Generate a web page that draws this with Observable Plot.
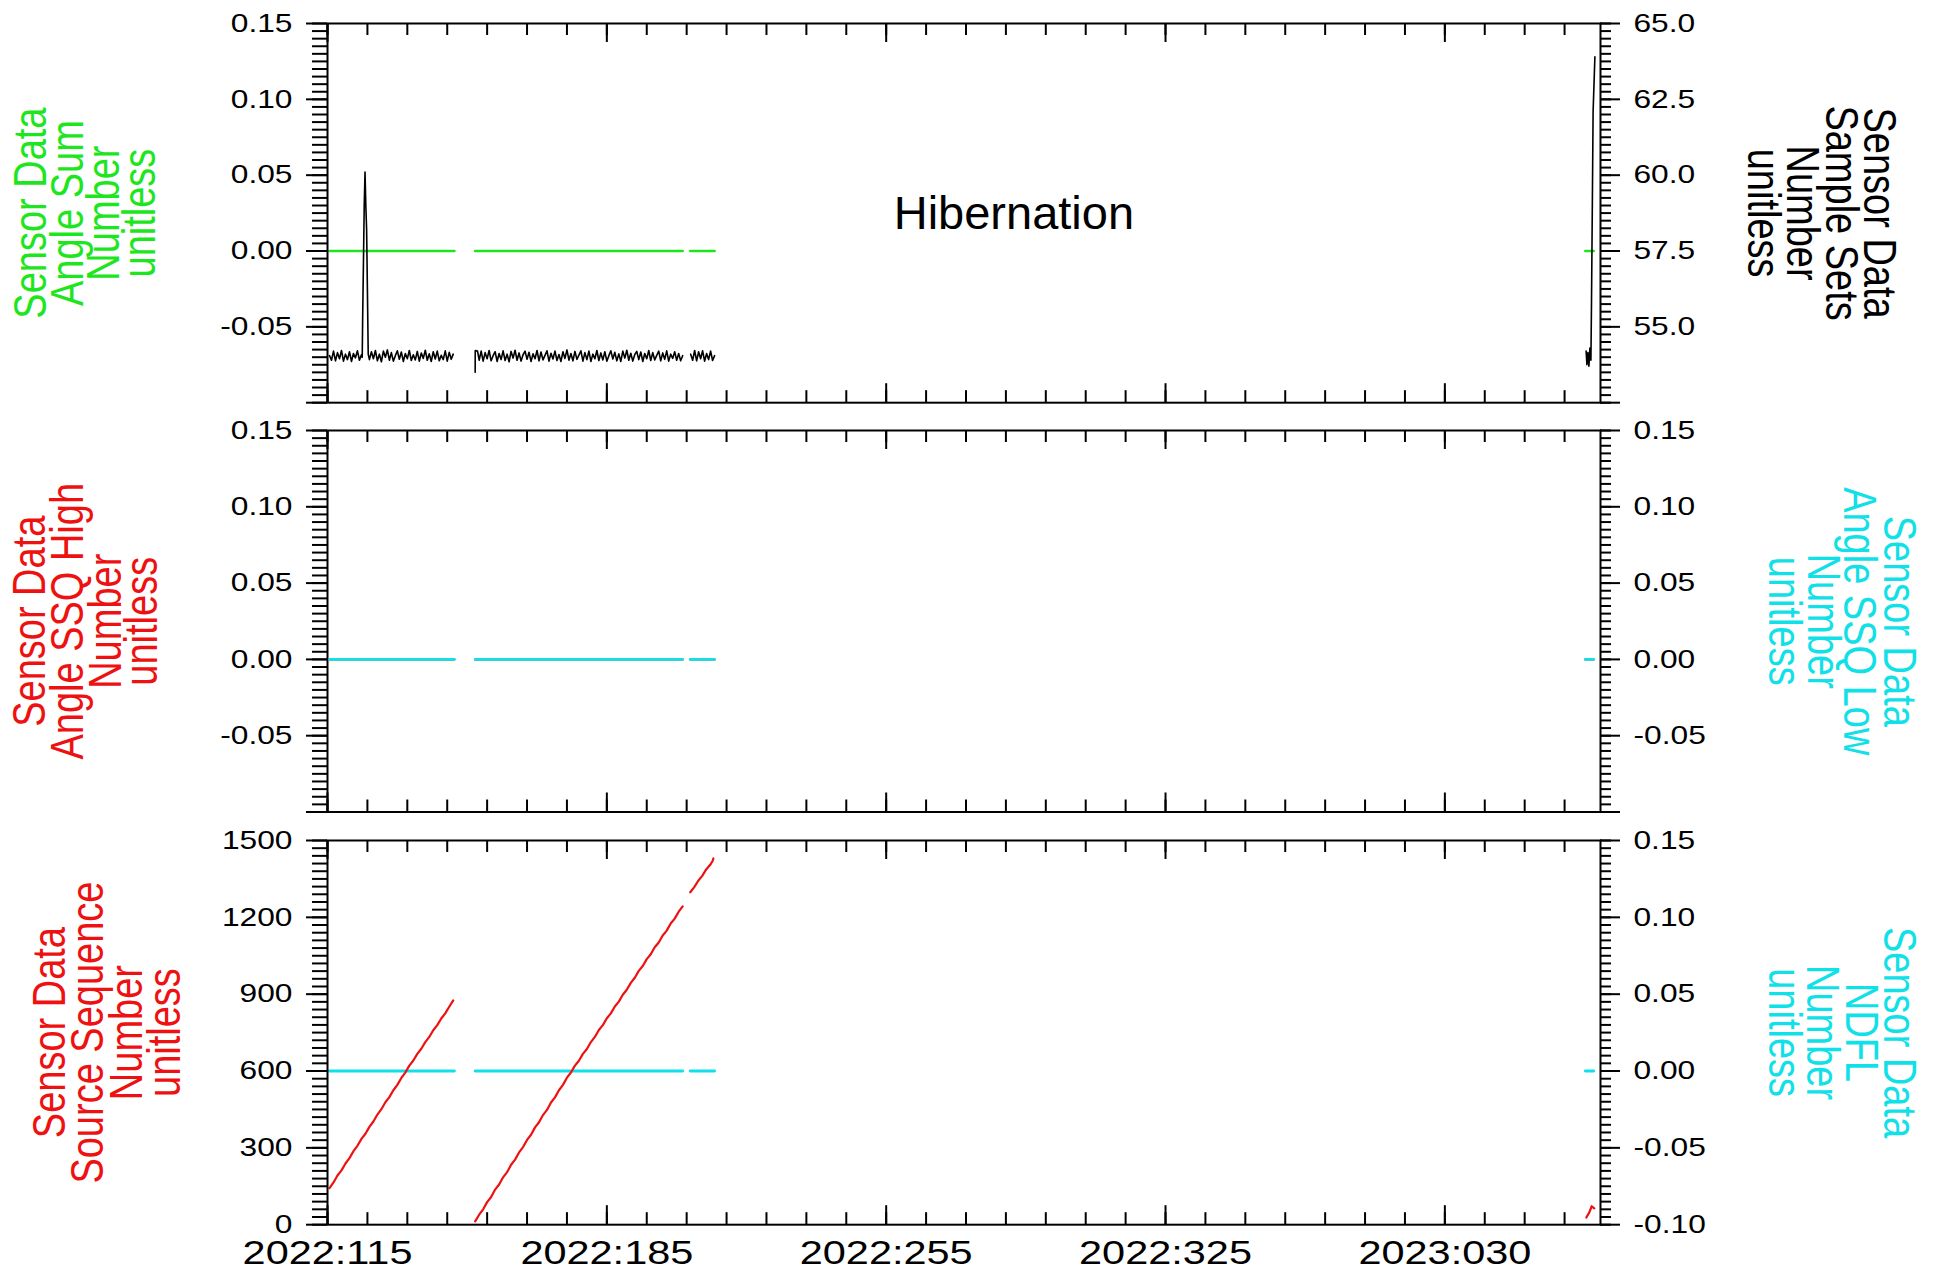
<!DOCTYPE html>
<html>
<head>
<meta charset="utf-8">
<script src="https://cdn.jsdelivr.net/npm/d3@7"></script>
<script src="https://cdn.jsdelivr.net/npm/@observablehq/plot@0.6"></script>
<style>
  html, body { margin: 0; padding: 0; background: #fff; overflow: hidden; }
  #chart { position: relative; width: 1936px; height: 1274px; overflow: hidden; background: #fff; }
  #chart svg { position: absolute; left: 0; overflow: visible; }
</style>
</head>
<body>
<div id="chart"></div>
<script>
// ================= DATA =================
// time axis: day number counted from 2022:000 (2023:030 -> 395)
const xTickDays = [115, 185, 255, 325, 395];
const xTickLabels = ["2022:115", "2022:185", "2022:255", "2022:325", "2023:030"];

const angleTickValues = [-0.10, -0.05, 0.00, 0.05, 0.10, 0.15];
const angleTickLabels = ["-0.10", "-0.05", "0.00", "0.05", "0.10", "0.15"];
const sampleTickValues = [52.5, 55.0, 57.5, 60.0, 62.5, 65.0];
const sampleTickLabels = ["52.5", "55.0", "57.5", "60.0", "62.5", "65.0"];
const seqTickValues = [0, 300, 600, 900, 1200, 1500];
const seqTickLabels = ["0", "300", "600", "900", "1200", "1500"];

// flat series (all zero) with data gaps
const flatDays = [115.5, 146.8, NaN, 152.0, 204.0, NaN, 205.9, 212.0, NaN, 430.2, 432.3];
const angleSumValues = [0, 0, NaN, 0, 0, NaN, 0, 0, NaN, 0, 0];
const ssqHighValues = [0, 0, NaN, 0, 0, NaN, 0, 0, NaN, 0, 0];
const ssqLowValues = [0, 0, NaN, 0, 0, NaN, 0, 0, NaN, 0, 0];
const ndflValues = [0, 0, NaN, 0, 0, NaN, 0, 0, NaN, 0, 0];

// Sample Sets (half-day samples)
const sampleSetsA = [54.05, 53.90, 54.20, 53.88, 54.15, 53.95, 54.22, 53.87, 54.10, 53.92, 54.18, 53.86, 54.12, 53.98, 54.21, 53.90, 54.08];
const sampleSpikeDays = [123.7, 123.8, 124.0, 124.2, 124.4, 124.6, 124.8, 125.0, 125.2];
const sampleSpikeValues = [54.0, 55.2, 57.1, 59.0, 60.1, 59.0, 58.2, 56.2, 54.1];
const sampleSetsB = [53.92, 54.18, 53.95, 54.22, 53.88, 54.10, 53.85, 54.20, 54.00, 54.24, 53.90, 54.15, 53.87, 54.05, 54.21, 53.93, 54.17, 53.86, 54.12, 53.95, 54.22, 53.89, 54.08, 53.91, 54.19, 53.87, 54.14, 53.96, 54.23, 53.90, 54.11, 53.86, 54.18, 53.94, 54.20, 53.88, 54.06, 53.92, 54.21, 53.87, 54.16, 53.93, 54.10];
const sampleHeadDays = [152.0, 152.02, 152.6];
const sampleHeadValues = [53.5, 54.22, 54.2];
const sampleSetsC = [53.90, 54.20, 53.87, 54.15, 53.95, 54.22, 53.88, 54.05, 54.18, 53.86,
  54.12, 53.92, 54.21, 53.89, 54.10, 53.85, 54.19, 53.97, 54.23, 53.90,
  54.14, 53.87, 54.08, 54.20, 53.93, 54.16, 53.86, 54.11, 53.95, 54.22,
  53.88, 54.17, 53.91, 54.06, 54.21, 53.87, 54.13, 53.94, 54.20, 53.89,
  54.09, 53.86, 54.18, 53.96, 54.24, 53.90, 54.12, 53.88, 54.19, 53.93,
  54.07, 54.21, 53.87, 54.15, 53.92, 54.20, 53.86, 54.10, 53.95, 54.22,
  53.89, 54.14, 53.91, 54.18, 53.87, 54.05, 54.21, 53.94, 54.16, 53.88,
  54.11, 53.86, 54.20, 53.97, 54.23, 53.90, 54.13, 53.87, 54.09, 54.19,
  53.92, 54.17, 53.86, 54.12, 53.95, 54.22, 53.89, 54.15, 53.91, 54.06,
  54.20, 53.88, 54.14, 53.93, 54.21, 53.87, 54.10, 53.96, 54.18, 53.90,
  54.12, 53.88, 54.05];
const sampleSetsD = [54.10, 53.90, 54.22, 53.88, 54.18, 53.95, 54.21, 53.87, 54.12, 53.92, 54.20, 53.89, 54.05];
const sampleEndDays = [430.4, 430.6, 430.85, 431.1, 431.35, 431.6, 431.75, 431.95, 432.15, 432.6];
const sampleEndValues = [54.2, 53.75, 54.15, 53.7, 54.3, 53.9, 55.8, 58.9, 62.1, 63.9];

// Source Sequence (daily samples)
const sourceSeqA = [143, 165, 192, 212, 239, 260, 287, 308, 335, 355, 382, 403, 430, 451, 478, 498, 525, 546, 573, 594, 621, 641, 667, 687, 713, 733, 759, 779, 805, 825, 851, 876];
const sourceSeqB = [13, 39, 60, 88, 108, 137, 157, 185, 205, 234, 254, 282, 303, 331, 351, 380, 400, 428, 448, 477, 497, 525, 546, 574, 594, 621, 640, 667, 686, 713, 733, 760, 779, 806, 825, 852, 871, 898, 917, 944, 964, 991, 1010, 1037, 1056, 1083, 1102, 1129, 1148, 1176, 1195, 1222, 1243];
const sourceSeqCDays = [205.9, 206.9, 207.9, 208.9, 209.9, 210.9, 211.5, 211.7];
const sourceSeqCValues = [1298, 1318, 1343, 1362, 1387, 1405, 1420, 1430];
const sourceSeqEndDays = [430.45, 431.2, 431.8, 432.45];
const sourceSeqEndValues = [28, 48, 72, 64];

const hibernationDay = 287;
const hibernationLevel = 0.0246;

// ================= LAYOUT / STYLE =================
const FONT = "'Liberation Sans', Arial, Helvetica, sans-serif";
const STRETCH = 1.22;
const W = 1936, FL = 327, FR = 1600;
const ML = FL, MR = W - FR, FW = FR - FL;
const PAD = 70;
const GREEN = "#1ee61e", RED = "#ee1111", CYAN = "#10e0e8";
const panels = [
  {top: 22.8, bottom: 402.0},
  {top: 430.3, bottom: 811.8},
  {top: 839.8, bottom: 1224.0}
];
const xDomain = [115, 434];
const xMinor = d3.range(115, 434.001, 10);

function rows(days, vals) { return days.map((d, i) => ({day: d, value: vals[i]})); }
function seq(start, step, vals) { return vals.map((v, i) => ({day: start + i * step, value: v})); }
const GAP = {day: NaN, value: NaN};

const sampleSetsData = [
  ...seq(115.5, 0.5, sampleSetsA), ...rows(sampleSpikeDays, sampleSpikeValues), ...seq(125.5, 0.5, sampleSetsB), GAP,
  ...rows(sampleHeadDays, sampleHeadValues), ...seq(153.0, 0.5, sampleSetsC), GAP,
  ...seq(206.0, 0.5, sampleSetsD), GAP,
  ...rows(sampleEndDays, sampleEndValues)
];
const sourceSeqData = [
  ...seq(115.5, 1, sourceSeqA), GAP,
  ...seq(152.0, 1, sourceSeqB), GAP,
  ...rows(sourceSeqCDays, sourceSeqCValues), GAP,
  ...rows(sourceSeqEndDays, sourceSeqEndValues)
];

function ticks(values, labels, keep) {
  return values.map((v, i) => ({v, label: labels[i]})).filter(d => keep(d.label));
}

function xTickMarks(h) {
  return [
    Plot.ruleX(xMinor, {insetTop: 0, insetBottom: h - 12, stroke: "black", strokeWidth: 2}),
    Plot.ruleX(xMinor, {insetTop: h - 12, insetBottom: 0, stroke: "black", strokeWidth: 2}),
    Plot.ruleX(xTickDays, {insetTop: 0, insetBottom: h - 19, stroke: "black", strokeWidth: 2}),
    Plot.ruleX(xTickDays, {insetTop: h - 19, insetBottom: 0, stroke: "black", strokeWidth: 2})
  ];
}

function leftAxisMarks(major, minorValues, labels) {
  return [
    Plot.ruleY(minorValues, {insetLeft: -15, insetRight: FW, stroke: "black", strokeWidth: 2}),
    Plot.ruleY(major, {insetLeft: -21, insetRight: FW, stroke: "black", strokeWidth: 2}),
    Plot.text(labels, {y: "v", text: "label", frameAnchor: "left", textAnchor: "end", lineAnchor: "middle", dx: -35, fontSize: 26, fill: "black"})
  ];
}
function rightAxisMarks(major, minorValues, labels) {
  return [
    Plot.ruleY(minorValues, {insetLeft: FW, insetRight: -11, stroke: "black", strokeWidth: 2}),
    Plot.ruleY(major, {insetLeft: FW, insetRight: -20, stroke: "black", strokeWidth: 2}),
    Plot.text(labels, {y: "v", text: "label", frameAnchor: "right", textAnchor: "start", lineAnchor: "middle", dx: 33, fontSize: 26, fill: "black"})
  ];
}
function titleMarks(lines, centers, color, side) {
  return lines.map((line, i) => Plot.text([line], {
    text: d => d,
    frameAnchor: side,
    rotate: side === "left" ? -90 : 90,
    textAnchor: "middle",
    lineAnchor: "middle",
    dx: centers[i] - (side === "left" ? FL : FR),
    fontSize: 38,
    fill: color
  }));
}

function stretchTexts(svg) {
  svg.querySelectorAll("text").forEach(t => {
    if (t.textContent.trim() === "Hibernation") return;
    const tr = t.getAttribute("transform");
    if (tr && tr.startsWith("translate(")) {
      t.setAttribute("transform", tr.replace(/^(translate\([^)]*\))/, `$1 scale(${STRETCH},1)`));
    } else {
      const x = parseFloat(t.getAttribute("x")) || 0;
      t.setAttribute("transform", `translate(${x},0) scale(${STRETCH},1) translate(${-x},0)` + (tr ? " " + tr : ""));
    }
  });
}

const chart = document.getElementById("chart");
function addPlot(panel, yDomain, marks) {
  const h = panel.bottom - panel.top;
  const svg = Plot.plot({
    width: W,
    height: h + 2 * PAD,
    marginLeft: ML, marginRight: MR, marginTop: PAD, marginBottom: PAD,
    x: {domain: xDomain, axis: null},
    y: {domain: yDomain, axis: null},
    style: {background: "transparent", fontFamily: FONT, overflow: "visible"},
    marks
  });
  svg.style.position = "absolute";
  svg.style.top = (panel.top - PAD) + "px";
  svg.style.left = "0px";
  svg.style.maxWidth = "none";
  chart.appendChild(svg);
  stretchTexts(svg);
  return svg;
}

const angleMinor = d3.range(-0.1, 0.15 + 1e-9, 0.005);
const sampleMinor = d3.range(52.5, 65 + 1e-9, 0.25);
const seqMinor = d3.range(0, 1500 + 1e-9, 30);
const noBottom = lab => lab !== "-0.10" && lab !== "52.5";

// ---------- Panel 1 ----------
{
  const p = panels[0], h = p.bottom - p.top;
  addPlot(p, [-0.1, 0.15], [
    ...xTickMarks(h),
    ...leftAxisMarks(angleTickValues, angleMinor, ticks(angleTickValues, angleTickLabels, noBottom)),
    ...titleMarks(["Sensor Data", "Angle Sum", "Number", "unitless"], [31, 67.5, 104, 140], GREEN, "left"),
    Plot.line(rows(flatDays, angleSumValues), {x: "day", y: "value", stroke: GREEN, strokeWidth: 2.6}),
    Plot.text([{day: hibernationDay, value: hibernationLevel, label: "Hibernation"}], {x: "day", y: "value", text: "label", fontSize: 47, fill: "black", lineAnchor: "middle"}),
    Plot.frame({stroke: "black", strokeWidth: 2})
  ]);
  addPlot(p, [52.5, 65], [
    ...rightAxisMarks(sampleTickValues, sampleMinor, ticks(sampleTickValues, sampleTickLabels, noBottom)),
    ...titleMarks(["Sensor Data", "Sample Sets", "Number", "unitless"], [1878, 1840, 1801, 1762], "black", "right"),
    Plot.line(sampleSetsData, {x: "day", y: "value", stroke: "black", strokeWidth: 1.6})
  ]);
}
// ---------- Panel 2 ----------
{
  const p = panels[1], h = p.bottom - p.top;
  addPlot(p, [-0.1, 0.15], [
    ...xTickMarks(h),
    ...leftAxisMarks(angleTickValues, angleMinor, ticks(angleTickValues, angleTickLabels, noBottom)),
    ...titleMarks(["Sensor Data", "Angle SSQ High", "Number", "unitless"], [29.5, 67.5, 106, 141.5], RED, "left"),
    Plot.line(rows(flatDays, ssqHighValues), {x: "day", y: "value", stroke: RED, strokeWidth: 2.2}),
    Plot.frame({stroke: "black", strokeWidth: 2})
  ]);
  addPlot(p, [-0.1, 0.15], [
    ...rightAxisMarks(angleTickValues, angleMinor, ticks(angleTickValues, angleTickLabels, noBottom)),
    ...titleMarks(["Sensor Data", "Angle SSQ Low", "Number", "unitless"], [1898.5, 1858, 1822, 1783], CYAN, "right"),
    Plot.line(rows(flatDays, ssqLowValues), {x: "day", y: "value", stroke: CYAN, strokeWidth: 2.6})
  ]);
}
// ---------- Panel 3 ----------
{
  const p = panels[2], h = p.bottom - p.top;
  addPlot(p, [-0.1, 0.15], [
    ...rightAxisMarks(angleTickValues, angleMinor, ticks(angleTickValues, angleTickLabels, () => true)),
    ...titleMarks(["Sensor Data", "NDFL", "Number", "unitless"], [1898.5, 1860, 1821, 1783], CYAN, "right"),
    Plot.line(rows(flatDays, ndflValues), {x: "day", y: "value", stroke: CYAN, strokeWidth: 2.8})
  ]);
  addPlot(p, [0, 1500], [
    ...xTickMarks(h),
    ...leftAxisMarks(seqTickValues, seqMinor, ticks(seqTickValues, seqTickLabels, () => true)),
    ...titleMarks(["Sensor Data", "Source Sequence", "Number", "unitless"], [49.5, 88, 126.5, 165], RED, "left"),
    Plot.line(sourceSeqData, {x: "day", y: "value", stroke: RED, strokeWidth: 2.2}),
    Plot.text(xTickDays.map((d, i) => ({day: d, label: xTickLabels[i]})), {x: "day", text: "label", frameAnchor: "bottom", lineAnchor: "top", dy: 15, fontSize: 34, fill: "black"}),
    Plot.frame({stroke: "black", strokeWidth: 2})
  ]);
}
</script>
</body>
</html>
